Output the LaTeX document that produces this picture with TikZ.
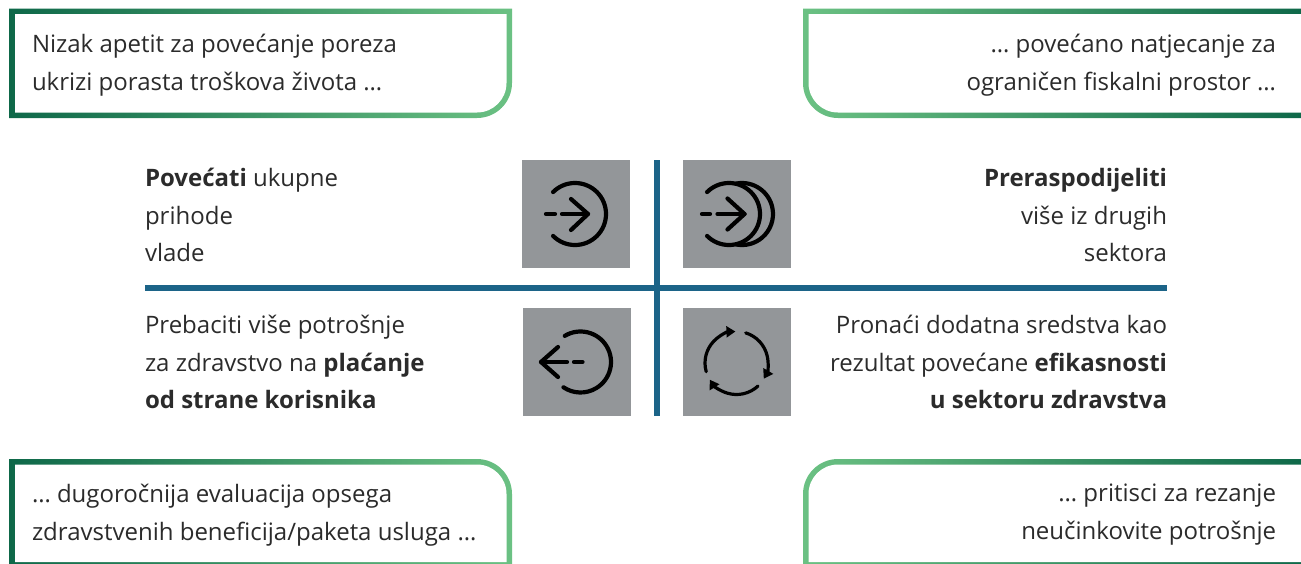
\documentclass[tikz,border=0pt]{standalone}
\usepackage{fontspec}
\setmainfont{Open Sans}
\usetikzlibrary{arrows.meta}
\definecolor{gdark}{HTML}{0E6849}
\definecolor{glight}{HTML}{6BC183}
\definecolor{txt}{HTML}{2B2B2B}
\definecolor{iconbg}{HTML}{939699}
\definecolor{axis}{HTML}{1C6488}
\tikzset{
  x=1pt,y=-1pt,
  every node/.style={inner sep=0pt,outer sep=0pt,text=txt,font=\fontsize{24}{37.8}\selectfont},
  lefttxt/.style={anchor=north west,align=left},
  righttxt/.style={anchor=north east,align=right},
  iconbox/.style={fill=iconbg,draw=none,minimum width=108pt,minimum height=108pt,anchor=north west},
  ico/.style={draw=black,line width=4.2pt,line cap=round,line join=round},
  icothin/.style={draw=black,line width=3.2pt,line cap=round,-{Triangle[length=9pt,width=11pt]}},
  axisline/.style={draw=axis,line width=6pt},
  sheet/.style={fill=white,draw=none},
}
\begin{document}
\begin{tikzpicture}
\clip (0,0) rectangle (1301,563);
\useasboundingbox (0,0) rectangle (1301,563);
% top-left box
\shade[left color=gdark,right color=glight] (9,8.5) -- (512,8.5) -- (512,83) arc[start angle=0,end angle=90,radius=35] -- (9,118) -- cycle;
\fill[sheet] (15,14) -- (506.5,14) -- (506.5,83) arc[start angle=0,end angle=90,radius=29.5] -- (15,112.5) -- cycle;
% top-right box
\shade[left color=glight,right color=gdark] (803,8.5) -- (1306,8.5) -- (1306,118) -- (838,118) arc[start angle=90,end angle=180,radius=35] -- cycle;
\fill[sheet] (808.5,14) -- (1306,14) -- (1306,112.5) -- (838,112.5) arc[start angle=90,end angle=180,radius=29.5] -- cycle;
% bottom-left box
\shade[left color=gdark,right color=glight] (9,494) -- (9,459) -- (477,459) arc[start angle=-90,end angle=0,radius=35] -- (512,570) -- (9,570) -- cycle;
\fill[sheet] (15,464.5) -- (477,464.5) arc[start angle=-90,end angle=0,radius=29.5] -- (506.5,562.2) -- (15,562.2) -- cycle;
% bottom-right box
\shade[left color=glight,right color=gdark] (803,494) arc[start angle=180,end angle=270,radius=35] -- (1306,459) -- (1306,570) -- (803,570) -- cycle;
\fill[sheet] (808.5,494) arc[start angle=180,end angle=270,radius=29.5] -- (1306,464.5) -- (1306,562.2) -- (808.5,562.2) -- cycle;
% box texts
\node[lefttxt] (t1) at (32,34) {Nizak apetit za povećanje poreza\\ukrizi porasta troškova života …};
\node[righttxt] (t2) at (1276,34) {… povećano natjecanje za\\ograničen fiskalni prostor …};
\node[lefttxt] (t3) at (32,484) {… dugoročnija evaluacija opsega\\zdravstvenih beneficija/paketa usluga …};
\node[righttxt] (t4) at (1276,484) {… pritisci za rezanje\\neučinkovite potrošnje};
% central texts
\node[lefttxt] (c1) at (145,168) {\textbf{Povećati} ukupne\\prihode\\vlade};
\node[righttxt] (c2) at (1167,168) {\textbf{Preraspodijeliti}\\više iz drugih\\sektora};
\node[lefttxt] (c3) at (145,315) {Prebaciti više potrošnje\\za zdravstvo na \textbf{plaćanje}\\\textbf{od strane korisnika}};
\node[righttxt] (c4) at (1167,315) {Pronaći dodatna sredstva kao\\rezultat povećane \textbf{efikasnosti}\\\textbf{u sektoru zdravstva}};
% axes
\draw[axisline] (657,160) -- (657,416);
\draw[axisline] (145,288) -- (1167,288);
% icon boxes
\node[iconbox] (i1) at (522,160) {};
\node[iconbox] (i2) at (683,160) {};
\node[iconbox] (i3) at (523,308) {};
\node[iconbox] (i4) at (683,308) {};
% icon 1
\draw[ico] (575,214) ++(-135:31) arc[start angle=-135,end angle=135,radius=31];
\draw[ico] (546,214) -- (555,214);
\draw[ico] (562,214) -- (588,214);
\draw[ico] (571,199) -- (588,214) -- (571,230);
% icon 2
\draw[ico] (729,214) ++(-135:31) arc[start angle=-135,end angle=135,radius=31];
\draw[ico] (742,214) ++(-100:31) arc[start angle=-100,end angle=100,radius=31];
\draw[ico] (702,214) -- (710,214);
\draw[ico] (717.5,214) -- (744.5,214);
\draw[ico] (727.5,198.5) -- (744.5,214) -- (727.5,229.5);
% icon 3
\draw[ico] (580.5,362) ++(-121:30.5) arc[start angle=-121,end angle=124,radius=30.5];
\draw[ico] (574,362) -- (582.5,362);
\draw[ico] (541,362) -- (567,362);
\draw[ico] (558,347) -- (541,362) -- (558,377);
% icon 4
\draw[icothin] (736.5,363) ++(164:31.5) arc[start angle=164,end angle=268,radius=31.5];
\draw[icothin] (736.5,363) ++(-73:31.5) arc[start angle=-73,end angle=30,radius=31.5];
\draw[icothin] (736.5,363) ++(47:31.5) arc[start angle=47,end angle=148,radius=31.5];
\end{tikzpicture}
\end{document}
